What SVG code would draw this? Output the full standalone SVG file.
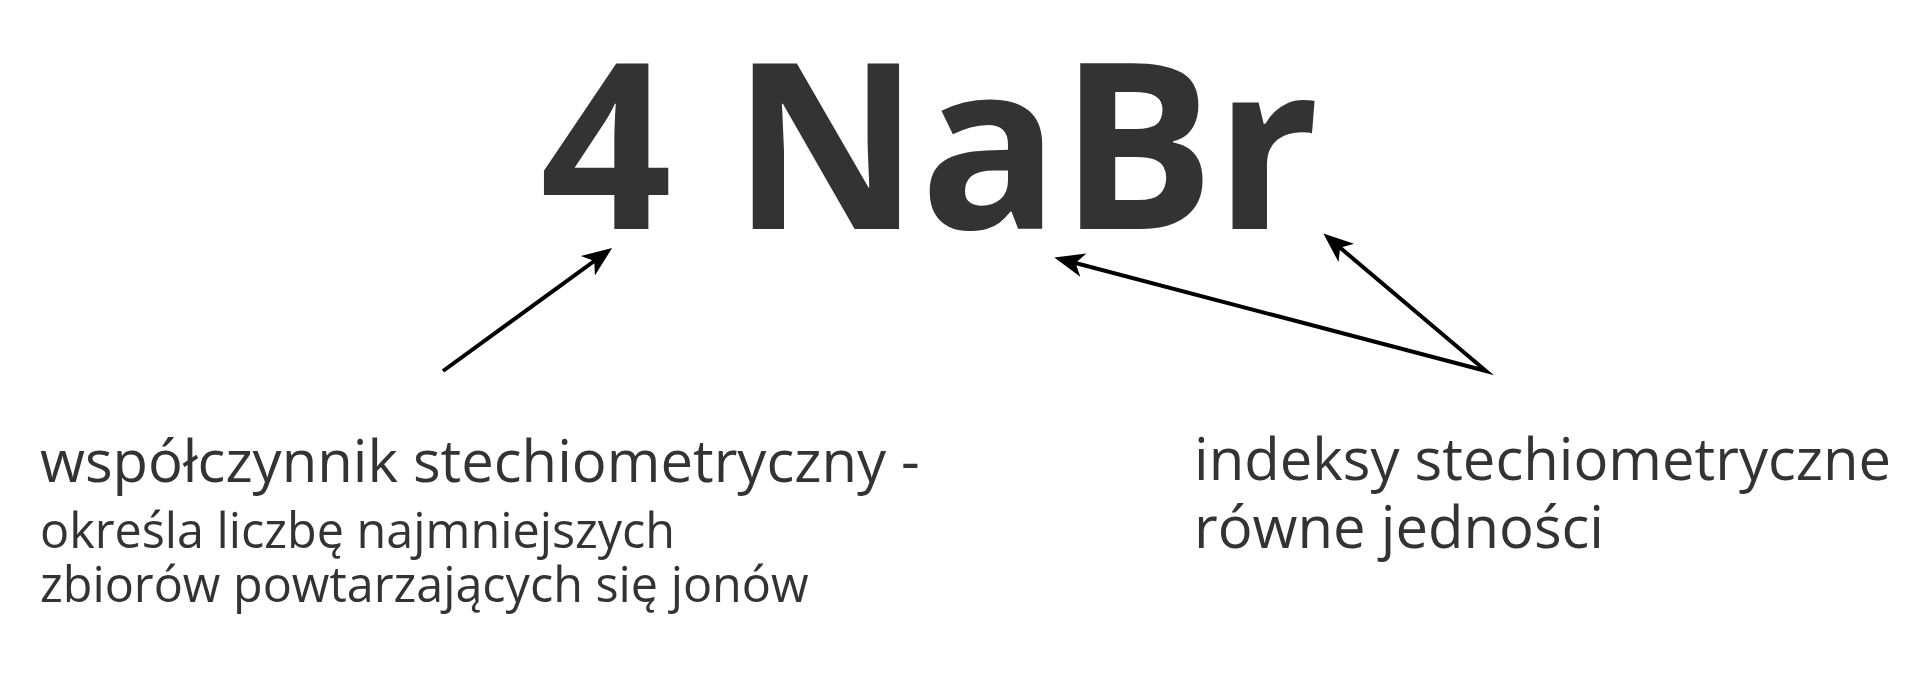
<svg xmlns="http://www.w3.org/2000/svg" width="1920" height="693" viewBox="0 0 1920 693">
  <style>
    .formula { font-family: "Open Sans", "Liberation Sans", sans-serif; font-weight: 700; fill: #333333; }
    .label { font-family: "Open Sans", "Liberation Sans", sans-serif; font-weight: 400; fill: #333333; }
    .conn { fill: none; stroke: #000000; stroke-width: 4; stroke-miterlimit: 10; }
  </style>
  <defs>
    <marker id="arrow" markerUnits="userSpaceOnUse" markerWidth="32" markerHeight="28" viewBox="0 -14 32 28" refX="20" refY="0" orient="auto">
      <path d="M30,0 L0,-12 L8,0 L0,12 Z" fill="#000000"/>
    </marker>
    <marker id="arrow-start" markerUnits="userSpaceOnUse" markerWidth="32" markerHeight="28" viewBox="0 -14 32 28" refX="20" refY="0" orient="auto-start-reverse">
      <path d="M30,0 L0,-12 L8,0 L0,12 Z" fill="#000000"/>
    </marker>
  </defs>
  <rect x="0" y="0" width="1920" height="693" fill="#ffffff"/>
  <g id="formula">
    <text class="formula" x="540" y="229" font-size="231">4 NaBr</text>
  </g>
  <g id="label-coefficient">
    <text class="label" x="40" y="482" font-size="58">współczynnik stechiometryczny -</text>
    <text class="label" x="40" y="548" font-size="48.5">określa liczbę najmniejszych</text>
    <text class="label" x="40" y="602" font-size="48.5">zbiorów powtarzających się jonów</text>
  </g>
  <g id="label-indices">
    <text class="label" x="1194" y="480" font-size="58">indeksy stechiometryczne</text>
    <text class="label" x="1194" y="548" font-size="58">równe jedności</text>
  </g>
  <g id="connectors">
    <line class="conn" x1="443" y1="371" x2="604" y2="254" marker-end="url(#arrow)"/>
    <path class="conn" d="M1064,260 L1486,371 L1331,240" marker-start="url(#arrow-start)" marker-end="url(#arrow)"/>
  </g>
</svg>
